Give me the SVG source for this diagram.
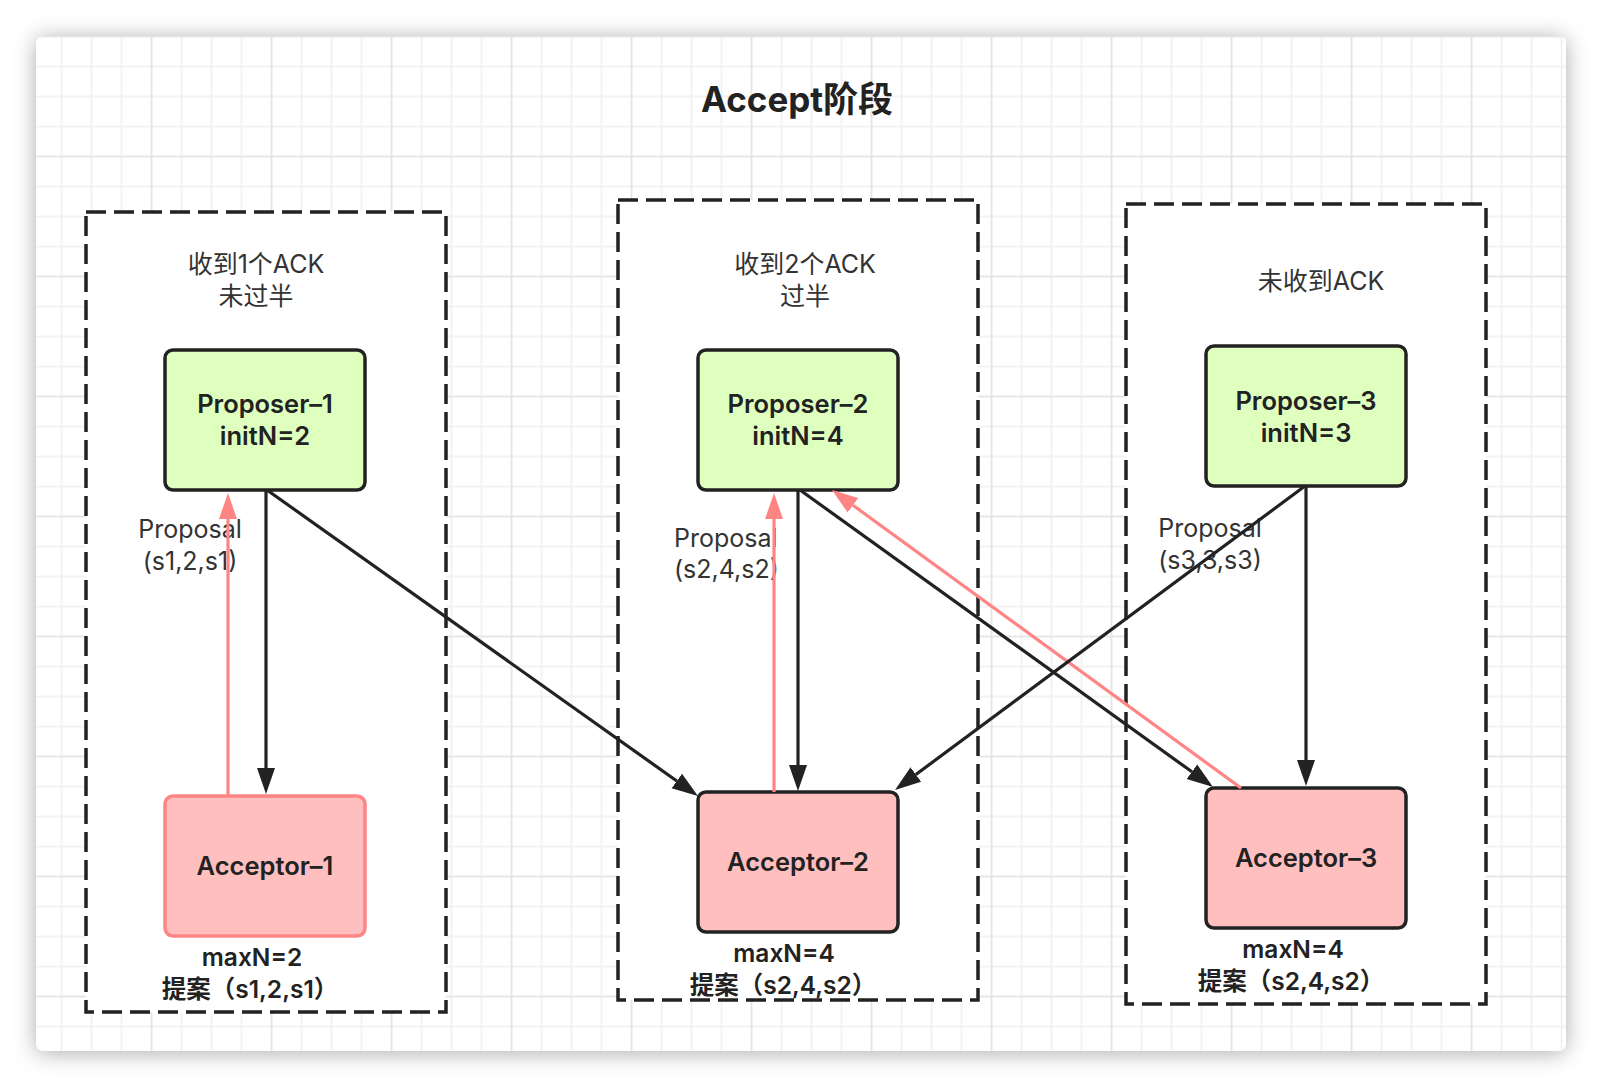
<svg xmlns="http://www.w3.org/2000/svg" width="1602" height="1088" viewBox="0 0 1602 1088">
  <style>
    text { font-family: Inter, "Noto Sans CJK SC", "Liberation Sans", sans-serif; }
    .title { font-size: 35px; font-weight: 700; fill: #222; text-anchor: middle; }
    .lbl { font-size: 25px; font-weight: 400; fill: #333; text-anchor: middle; }
    .lbl-s { font-size: 25px; font-weight: 400; fill: #333; text-anchor: start; }
    .bold { font-size: 25.5px; font-weight: 600; fill: #222; text-anchor: middle; }
    .note { font-size: 24.5px; font-weight: 600; fill: #222; text-anchor: middle; }
    .group { fill: #ffffff; stroke: #222; stroke-width: 3.5; stroke-dasharray: 20 8; }
    .prop { fill: #dfffbf; stroke: #222; stroke-width: 3.5; }
    .acc { fill: #ffbfbf; stroke: #222; stroke-width: 3.5; }
    .acc-red { fill: #ffbfbf; stroke: #ff8585; stroke-width: 3.5; }
    .blk { stroke: #222; stroke-width: 3.2; fill: none; }
    .red { stroke: #ff8585; stroke-width: 3.2; fill: none; }
  </style>
  <defs>
    <filter id="shadow" x="-5%" y="-5%" width="110%" height="110%">
      <feDropShadow dx="0" dy="2" stdDeviation="11" flood-color="#000" flood-opacity="0.33"/>
    </filter>
    <pattern id="grid" patternUnits="userSpaceOnUse" x="16.5" y="21.5" width="120" height="120">
      <path d="M45 0V120M75 0V120M105 0V120M0 45H120M0 75H120M0 105H120" stroke="#f2f2f2" stroke-width="2" fill="none"/>
      <path d="M15 0V120M0 15H120" stroke="#e6e6e6" stroke-width="2" fill="none"/>
    </pattern>
    <marker id="arrowBlk" markerUnits="userSpaceOnUse" markerWidth="27" markerHeight="19" refX="0" refY="9" orient="auto" viewBox="0 0 27 18">
      <path d="M0 0L26 9L0 18Z" fill="#222"/>
    </marker>
    <marker id="arrowRed" markerUnits="userSpaceOnUse" markerWidth="27" markerHeight="19" refX="0" refY="9" orient="auto" viewBox="0 0 27 18">
      <path d="M0 0L26 9L0 18Z" fill="#ff8585"/>
    </marker>
  </defs>

  <rect x="0" y="0" width="1602" height="1088" fill="#ffffff"/>
  <g id="card">
    <rect x="36" y="36" width="1530" height="1015" rx="8" fill="#ffffff" filter="url(#shadow)"/>
    <rect x="36" y="36" width="1530" height="1015" rx="8" fill="url(#grid)"/>
  </g>

  <g id="title">
    <text class="title" x="797" y="112">Accept阶段</text>
  </g>

  <g id="group-1">
    <rect class="group" x="86" y="212" width="360" height="800"/>
    <text class="lbl" x="256" y="273">收到1个ACK</text>
    <text class="lbl" x="256" y="305">未过半</text>
  </g>
  <g id="group-2">
    <rect class="group" x="618" y="200" width="360" height="800"/>
    <text class="lbl" x="805" y="273">收到2个ACK</text>
    <text class="lbl" x="805" y="305">过半</text>
  </g>
  <g id="group-3">
    <rect class="group" x="1126" y="204" width="360" height="800"/>
    <text class="lbl" x="1321" y="290">未收到ACK</text>
  </g>

  <g id="proposer-1">
    <rect class="prop" x="165" y="350" width="200" height="140" rx="8"/>
    <text class="bold" x="265" y="413">Proposer–1</text>
    <text class="bold" x="265" y="445">initN=2</text>
  </g>
  <g id="proposer-2">
    <rect class="prop" x="698" y="350" width="200" height="140" rx="8"/>
    <text class="bold" x="798" y="413">Proposer–2</text>
    <text class="bold" x="798" y="445">initN=4</text>
  </g>
  <g id="proposer-3">
    <rect class="prop" x="1206" y="346" width="200" height="140" rx="8"/>
    <text class="bold" x="1306" y="410">Proposer–3</text>
    <text class="bold" x="1306" y="442">initN=3</text>
  </g>

  <g id="acceptor-1">
    <rect class="acc-red" x="165" y="796" width="200" height="140" rx="8"/>
    <text class="bold" x="265" y="875">Acceptor–1</text>
    <text class="note" x="252" y="966">maxN=2</text>
    <text class="note" x="250" y="998">提案（s1,2,s1）</text>
  </g>
  <g id="acceptor-2">
    <rect class="acc" x="698" y="792" width="200" height="140" rx="8"/>
    <text class="bold" x="798" y="871">Acceptor–2</text>
    <text class="note" x="784" y="962">maxN=4</text>
    <text class="note" x="783" y="994">提案（s2,4,s2）</text>
  </g>
  <g id="acceptor-3">
    <rect class="acc" x="1206" y="788" width="200" height="140" rx="8"/>
    <text class="bold" x="1306" y="867">Acceptor–3</text>
    <text class="note" x="1293" y="958">maxN=4</text>
    <text class="note" x="1291" y="990">提案（s2,4,s2）</text>
  </g>

  <g id="edge-labels">
    <text class="lbl" x="190" y="538">Proposal</text>
    <text class="lbl" x="190" y="570">(s1,2,s1)</text>
    <text class="lbl-s" x="674" y="547">Proposal</text>
    <text class="lbl-s" x="674" y="578">(s2,4,s2)</text>
    <text class="lbl" x="1210" y="537">Proposal</text>
    <text class="lbl" x="1210" y="569">(s3,3,s3)</text>
  </g>

  <g id="connectors">
    <line class="blk" x1="266" y1="490" x2="266" y2="768" marker-end="url(#arrowBlk)"/>
    <line class="red" x1="228" y1="796" x2="228" y2="519" marker-end="url(#arrowRed)"/>
    <line class="blk" x1="267" y1="490" x2="676.8" y2="781" marker-end="url(#arrowBlk)"/>
    <line class="blk" x1="798" y1="490" x2="798" y2="765" marker-end="url(#arrowBlk)"/>
    <line class="red" x1="774" y1="792" x2="774" y2="519" marker-end="url(#arrowRed)"/>
    <line class="blk" x1="800" y1="490" x2="1191.9" y2="771.8" marker-end="url(#arrowBlk)"/>
    <line class="red" x1="1241" y1="788" x2="853" y2="505.3" marker-end="url(#arrowRed)"/>
    <line class="blk" x1="1305" y1="486" x2="915.9" y2="774.5" marker-end="url(#arrowBlk)"/>
    <line class="blk" x1="1306" y1="486" x2="1306" y2="760" marker-end="url(#arrowBlk)"/>
  </g>
</svg>
